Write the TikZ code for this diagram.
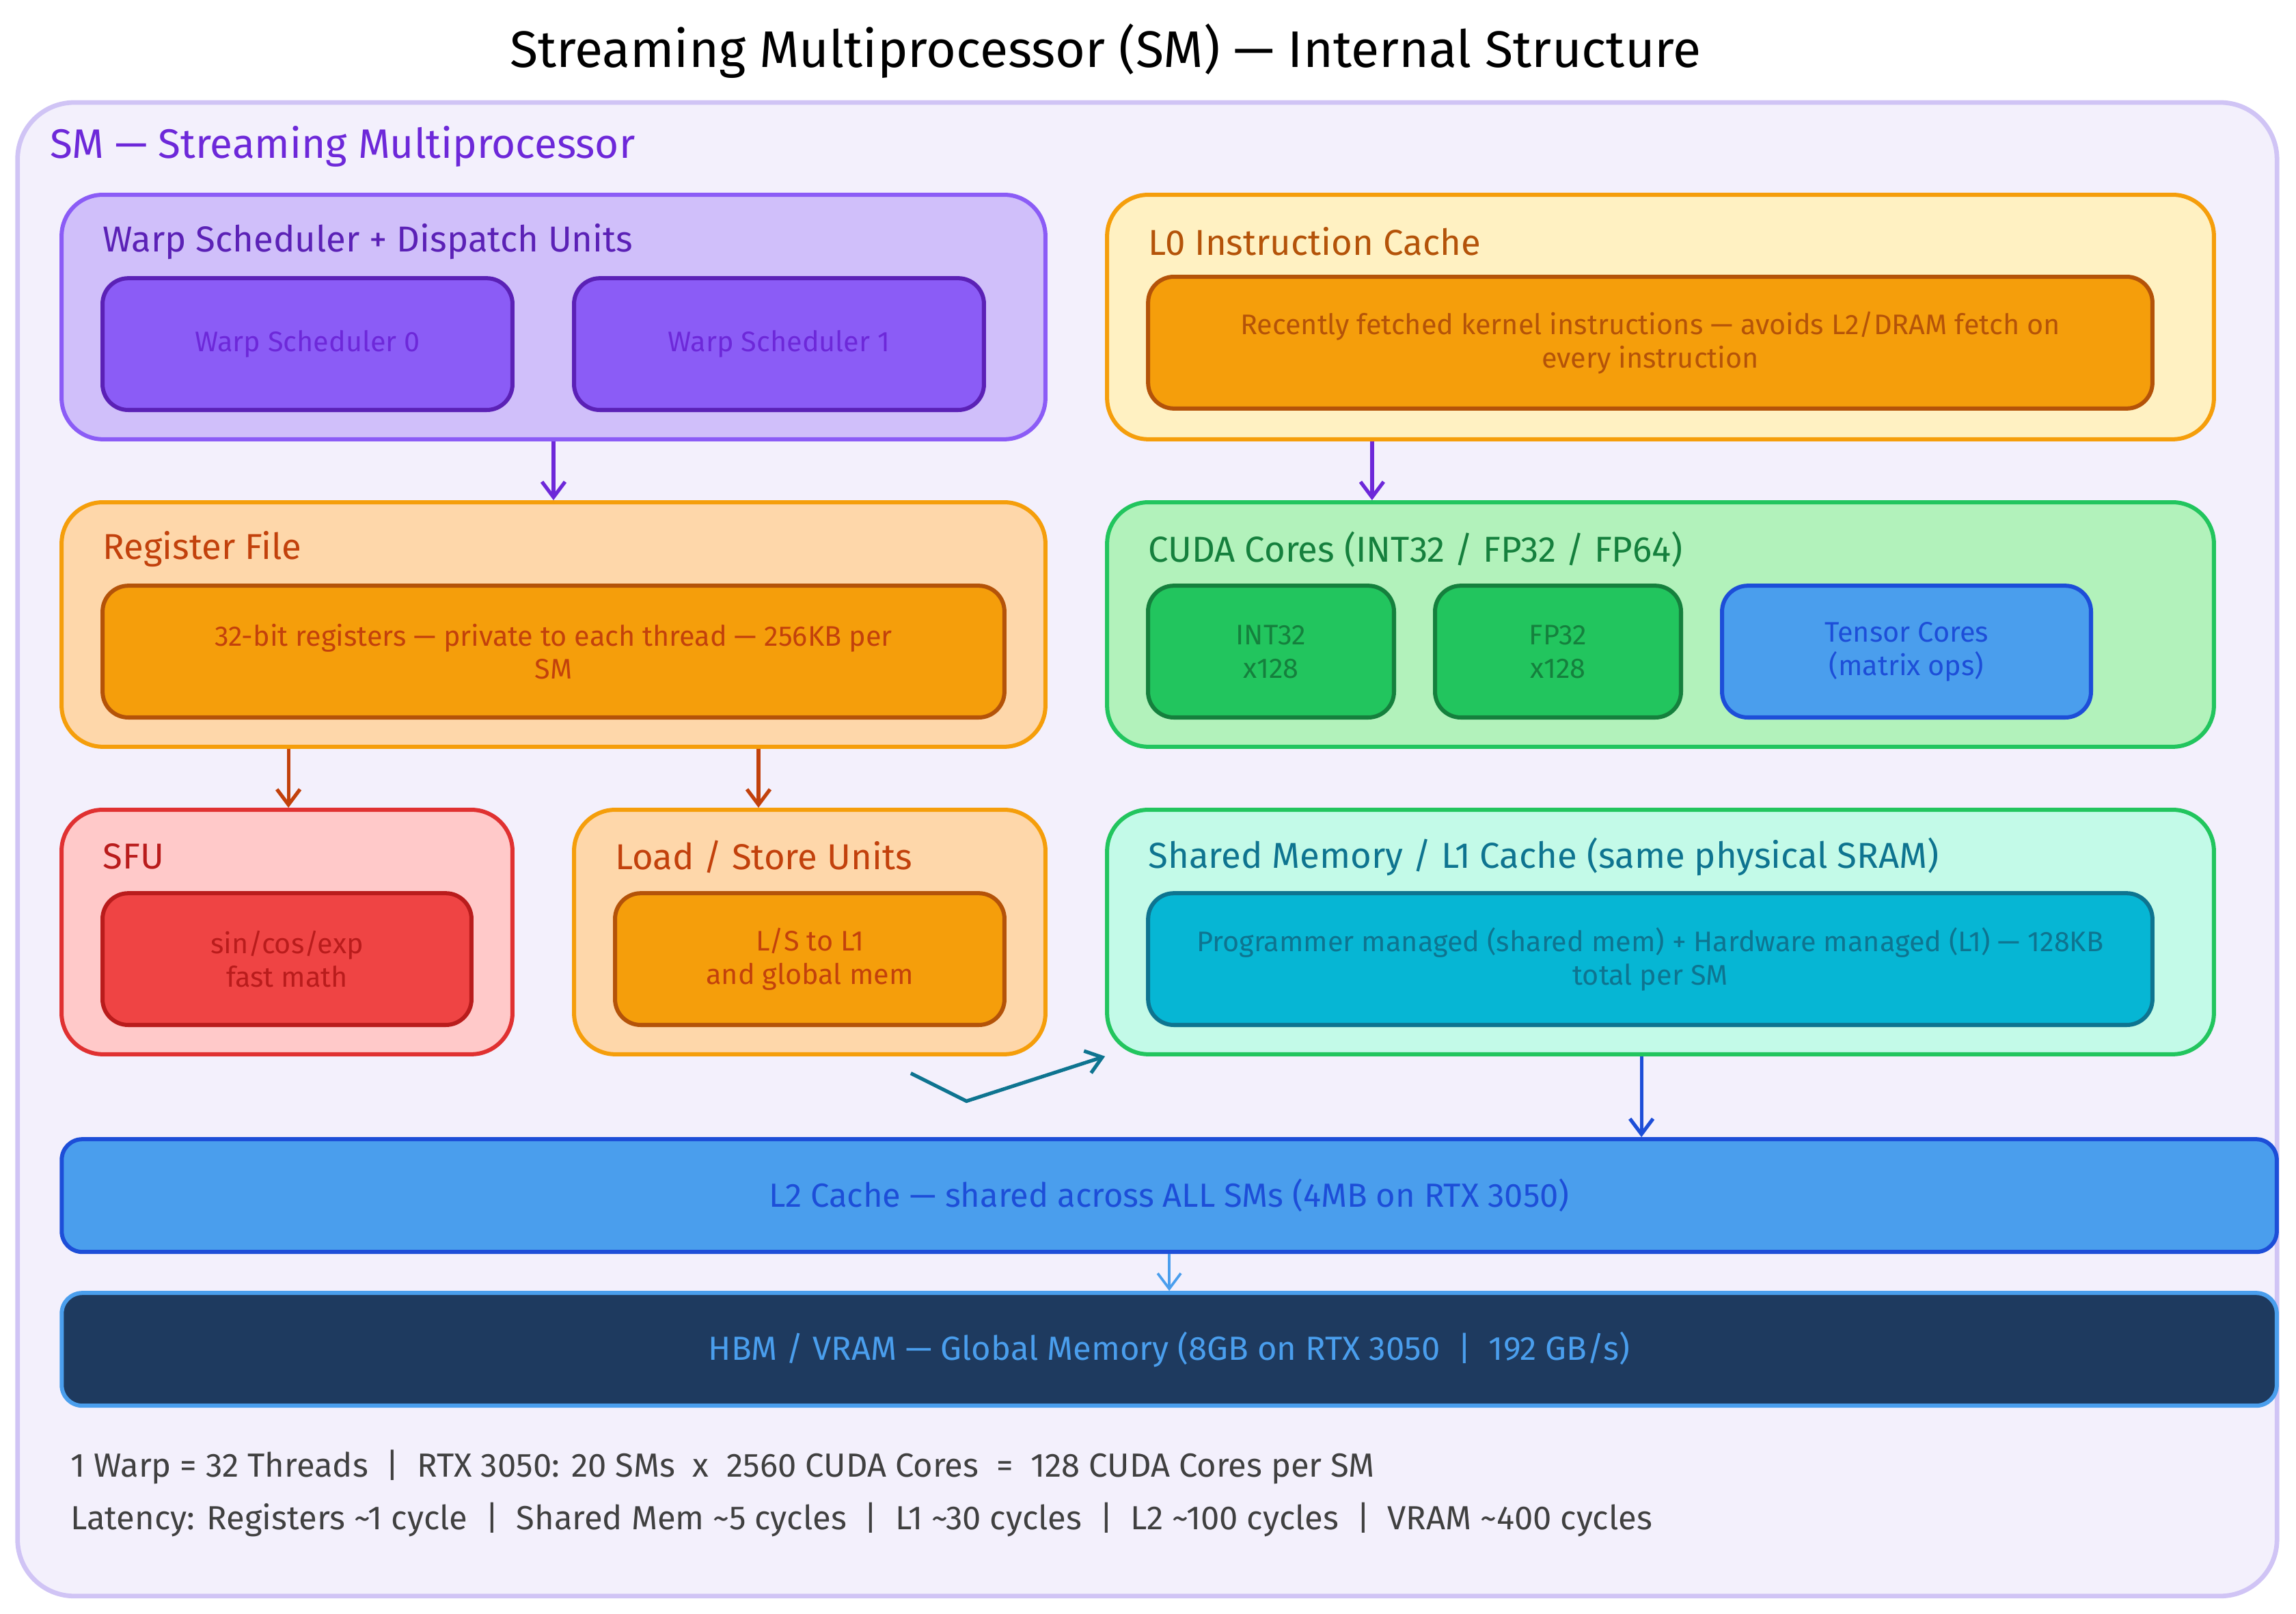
\documentclass[tikz,border=0pt]{standalone}
\usepackage{fontspec}
\setmainfont{Fira Sans}
\usetikzlibrary{arrows.meta}
\usetikzlibrary{backgrounds}

\definecolor{smfill}{HTML}{F3F0FC}
\definecolor{smline}{HTML}{D0C4F5}
\definecolor{purp}{HTML}{6D28D9}
\definecolor{purpfill}{HTML}{D0BFFA}
\definecolor{purpmid}{HTML}{8B5CF6}
\definecolor{purpdark}{HTML}{5B21B6}
\definecolor{yelfill}{HTML}{FFF1C2}
\definecolor{amber}{HTML}{F59E0B}
\definecolor{amberdark}{HTML}{B45309}
\definecolor{orfill}{HTML}{FED7AA}
\definecolor{ordark}{HTML}{C2410C}
\definecolor{grfill}{HTML}{B2F2BB}
\definecolor{grmid}{HTML}{22C55E}
\definecolor{grdark}{HTML}{15803D}
\definecolor{blmid}{HTML}{4A9EED}
\definecolor{bldark}{HTML}{1D4ED8}
\definecolor{redfill}{HTML}{FFC9C9}
\definecolor{redline}{HTML}{E03131}
\definecolor{redmid}{HTML}{EF4444}
\definecolor{reddark}{HTML}{B91C1C}
\definecolor{tealfill}{HTML}{C3FAE8}
\definecolor{cyan}{HTML}{06B6D4}
\definecolor{tealdark}{HTML}{0E7490}
\definecolor{navy}{HTML}{1E3A5F}

\tikzset{
  group/.style={draw, line width=1.6pt, rounded corners=16pt, minimum width=#1cm, minimum height=3.34cm},
  inner/.style={draw, line width=1.6pt, rounded corners=10pt, minimum width=#1cm, minimum height=1.8cm,
    align=center, font=\fontsize{11}{13}\selectfont},
  lbl/.style={anchor=west, font=\fontsize{14}{16}\selectfont},
  band/.style={draw, line width=1.6pt, rounded corners=8pt, minimum width=30.26cm, minimum height=1.54cm,
    font=\fontsize{13}{15}\selectfont},
  flow/.style={-{Straight Barb[length=6pt,width=9pt]}, line width=1.4pt}
}

\begin{document}
\begin{tikzpicture}[x=0.02cm, y=-0.02cm]
        \useasboundingbox (0,0) rectangle (1568,1102);
        \draw[smline, fill=smfill, line width=1.8pt, rounded corners=22pt] (12,70) rectangle (1555,1090);

        \node[font=\fontsize{20}{24}\selectfont] (title) at (755,35) {Streaming Multiprocessor (SM) — Internal Structure};
        \node[anchor=west, text=purp, font=\fontsize{16}{18}\selectfont] (smlabel) at (28,100) {SM — Streaming Multiprocessor};

        % top row
        \node[group=13.44, fill=purpfill, draw=purpmid] (warp) at (378,216.5) {};
        \node[lbl, text=purpdark] (warplbl) at (64,165) {Warp Scheduler + Dispatch Units};
        \node[inner=5.6, fill=purpmid, draw=purpdark, text=purp] (ws0) at (210,235) {Warp Scheduler 0};
        \node[inner=5.6, fill=purpmid, draw=purpdark, text=purp] (ws1) at (532,235) {Warp Scheduler 1};

        \node[group=15.12, fill=yelfill, draw=amber] (lzero) at (1134,216.5) {};
        \node[lbl, text=amberdark] (lzerolbl) at (778,165) {L0 Instruction Cache};
        \node[inner=13.72, fill=amber, draw=amberdark, text=amberdark] (lzeroin) at (1127,234)
          {Recently fetched kernel instructions — avoids L2/DRAM fetch on\\every instruction};

        % middle row
        \node[group=13.44, fill=orfill, draw=amber] (reg) at (378,426.5) {};
        \node[lbl, text=ordark] (reglbl) at (64,375) {Register File};
        \node[inner=12.32, fill=amber, draw=amberdark, text=ordark] (regin) at (378,445)
          {32-bit registers — private to each thread — 256KB per\\SM};

        \node[group=15.12, fill=grfill, draw=grmid] (cuda) at (1134,426.5) {};
        \node[lbl, text=grdark] (cudalbl) at (778,375) {CUDA Cores (INT32 / FP32 / FP64)};
        \node[inner=3.36, fill=grmid, draw=grdark, text=grdark] (int) at (868,445) {INT32\\x128};
        \node[inner=3.36, fill=grmid, draw=grdark, text=grdark] (fp) at (1064,445) {FP32\\x128};
        \node[inner=5.04, fill=blmid, draw=bldark, text=bldark] (tensor) at (1302,445) {Tensor Cores\\(matrix ops)};

        % lower row
        \node[group=6.16, fill=redfill, draw=redline] (sfu) at (196,636.5) {};
        \node[lbl, text=reddark] (sfulbl) at (64,585) {SFU};
        \node[inner=5.04, fill=redmid, draw=reddark, text=reddark] (sfuin) at (196,655) {sin/cos/exp\\fast math};

        \node[group=6.44, fill=orfill, draw=amber] (ls) at (553,636.5) {};
        \node[lbl, text=ordark] (lslbl) at (414,585) {Load / Store Units};
        \node[inner=5.32, fill=amber, draw=amberdark, text=ordark] (lsin) at (553,655) {L/S to L1\\and global mem};

        \node[group=15.12, fill=tealfill, draw=grmid] (shm) at (1134,636.5) {};
        \node[lbl, text=tealdark] (shmlbl) at (778,585) {Shared Memory / L1 Cache (same physical SRAM)};
        \node[inner=13.72, fill=cyan, draw=tealdark, text=tealdark] (shmin) at (1127,655)
          {Programmer managed (shared mem) + Hardware managed (L1) — 128KB\\total per SM};

        % memory bands
        \node[band, fill=blmid, draw=bldark, text=bldark] (ltwo) at (798.5,816.5) {L2 Cache — shared across ALL SMs (4MB on RTX 3050)};
        \node[band, fill=navy, draw=blmid, text=blmid] (hbm) at (798.5,921.5) {HBM / VRAM — Global Memory (8GB on RTX 3050 \ | \ 192 GB/s)};

        \node[anchor=west, text=black!75, font=\fontsize{13}{15}\selectfont] (note1) at (42,1002)
          {1 Warp = 32 Threads \ | \ RTX 3050: 20 SMs \ x \ 2560 CUDA Cores \ = \ 128 CUDA Cores per SM};
        \node[anchor=west, text=black!75, font=\fontsize{13}{15}\selectfont] (note2) at (42,1038)
          {Latency: Registers \textasciitilde1 cycle \ | \ Shared Mem \textasciitilde5 cycles \ | \ L1 \textasciitilde30 cycles \ | \ L2 \textasciitilde100 cycles \ | \ VRAM \textasciitilde400 cycles};

        % connectors
        \draw[flow, purp] (warp.south) -- (reg.north);
        \draw[flow, purp] (lzero.south -| 937,0) -- (cuda.north -| 937,0);
        \draw[flow, ordark] (reg.south -| 197,0) -- (sfu.north -| 197,0);
        \draw[flow, ordark] (reg.south -| 518,0) -- (ls.north -| 518,0);
        \coordinate (lsout) at (622,733);
        \draw[flow, tealdark] (lsout) -- (660,752) -- (shm.south west);
        \draw[flow, bldark] (shm.south -| 1121,0) -- (ltwo.north -| 1121,0);
        \draw[flow, blmid, line width=1pt] (ltwo.south) -- (hbm.north);
\end{tikzpicture}
\end{document}
